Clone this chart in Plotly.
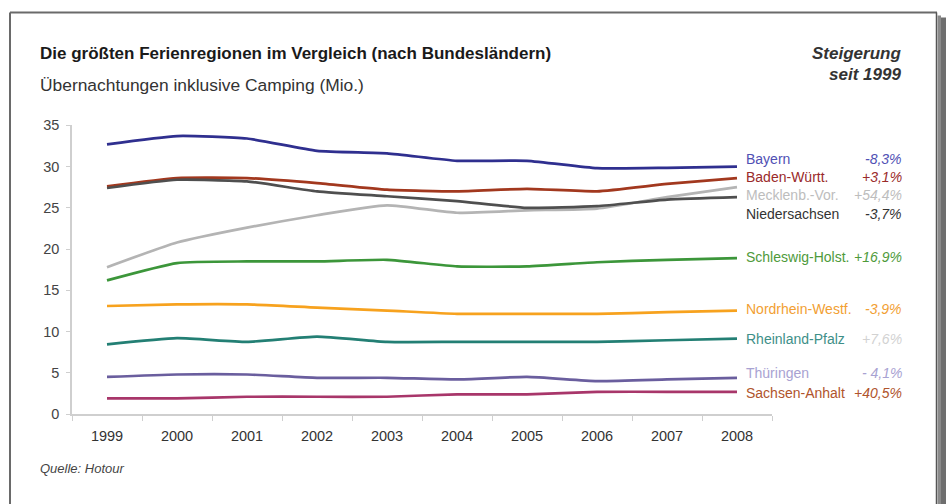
import plotly.graph_objects as go

W, H = 946, 504

years = ["1999", "2000", "2001", "2002", "2003", "2004", "2005", "2006", "2007", "2008"]
regions = ["Bayern", "Baden-Württ.", "Mecklenb.-Vor.", "Niedersachsen", "Schleswig-Holst.",
           "Nordrhein-Westf.", "Rheinland-Pfalz", "Thüringen", "Sachsen-Anhalt"]
changes = ["-8,3%", "+3,1%", "+54,4%", "-3,7%", "+16,9%", "-3,9%", "+7,6%", "- 4,1%", "+40,5%"]

bayern = [32.7, 33.7, 33.4, 31.9, 31.6, 30.7, 30.7, 29.8, 29.85, 30.0]
baden = [27.6, 28.6, 28.6, 28.0, 27.2, 27.0, 27.3, 27.0, 27.9, 28.6]
mecklenb = [17.8, 20.8, 22.6, 24.1, 25.3, 24.4, 24.7, 24.9, 26.3, 27.5]
niedersachsen = [27.4, 28.4, 28.2, 27.0, 26.4, 25.8, 25.0, 25.2, 26.0, 26.3]
schleswig = [16.2, 18.3, 18.5, 18.5, 18.7, 17.9, 17.9, 18.4, 18.7, 18.9]
nrw = [13.1, 13.3, 13.3, 12.9, 12.55, 12.15, 12.15, 12.15, 12.35, 12.55]
rlp = [8.45, 9.2, 8.75, 9.4, 8.75, 8.75, 8.75, 8.75, 8.95, 9.15]
thueringen = [4.5, 4.8, 4.8, 4.4, 4.4, 4.2, 4.5, 4.0, 4.2, 4.4]
sachsen_anhalt = [1.9, 1.9, 2.1, 2.1, 2.1, 2.4, 2.4, 2.7, 2.7, 2.7]

y_ticks = [0, 5, 10, 15, 20, 25, 30, 35]

series = [bayern, baden, mecklenb, niedersachsen, schleswig, nrw, rlp, thueringen, sachsen_anhalt]

# styles
line_colors = ["#2F2F8F", "#A2381E", "#B4B4B4", "#4F4F4F", "#3C963A", "#F7A21E", "#237F74", "#6A5E9E", "#A8366A"]
label_colors = ["#5050B4", "#9A2A2A", "#BDBDBD", "#333333", "#4E9A3A", "#F2A033", "#3E8F88", "#A8A2D2", "#B0542C"]
pct_colors = ["#5050B4", "#9A2A2A", "#BDBDBD", "#333333", "#4E9A3A", "#F2A033", "#D2D2D2", "#A8A2D2", "#B0542C"]
label_y = [30.9, 28.7, 26.5, 24.3, 19.0, 12.7, 9.1, 5.0, 2.5]

FONT = "Liberation Sans, Arial, sans-serif"

fig = go.Figure()
for name, vals, col in zip(regions, series, line_colors):
    fig.add_trace(go.Scatter(x=years, y=vals, mode="lines", name=name,
                             line=dict(color=col, width=2.7, shape="spline", smoothing=0.5),
                             showlegend=False, hoverinfo="x+y+name"))

def px(x):
    return x / W

def py(y):
    yy = (y - 6.6) / 0.969
    return 1 - yy / H

annotations = []
for name, pct, ly, lc, pc in zip(regions, changes, label_y, label_colors, pct_colors):
    annotations.append(dict(x=px(744), y=ly, xref="paper", yref="y", text=name, showarrow=False,
                            xanchor="left", yanchor="middle", font=dict(family=FONT, size=14, color=lc)))
    annotations.append(dict(x=px(904), y=ly, xref="paper", yref="y", text="<i>" + pct + "</i>", showarrow=False,
                            xanchor="right", yanchor="middle", font=dict(family=FONT, size=14, color=pc)))

annotations += [
    dict(x=px(38), y=py(52), xref="paper", yref="paper", showarrow=False, xanchor="left", yanchor="middle",
         text="<b>Die größten Ferienregionen im Vergleich (nach Bundesländern)</b>",
         font=dict(family=FONT, size=17, color="#1A1A1A")),
    dict(x=px(38), y=py(84), xref="paper", yref="paper", showarrow=False, xanchor="left", yanchor="middle",
         text="Übernachtungen inklusive Camping (Mio.)",
         font=dict(family=FONT, size=17.4, color="#333333")),
    dict(x=px(903), y=py(52), xref="paper", yref="paper", showarrow=False, xanchor="right", yanchor="middle",
         text="<b><i>Steigerung</i></b>", font=dict(family=FONT, size=17, color="#333333")),
    dict(x=px(903), y=py(73), xref="paper", yref="paper", showarrow=False, xanchor="right", yanchor="middle",
         text="<b><i>seit 1999</i></b>", font=dict(family=FONT, size=17, color="#333333")),
    dict(x=px(38), y=py(467), xref="paper", yref="paper", showarrow=False, xanchor="left", yanchor="middle",
         text="<i>Quelle: Hotour</i>", font=dict(family=FONT, size=13, color="#444444")),
]

shapes = [
    # frame
    dict(type="line", xref="paper", yref="paper", x0=px(10), x1=px(10), y0=py(11), y1=py(520),
         line=dict(color="#6A6A6A", width=2)),
    dict(type="line", xref="paper", yref="paper", x0=px(10), x1=px(937), y0=py(11), y1=py(11),
         line=dict(color="#6A6A6A", width=2)),
    dict(type="line", xref="paper", yref="paper", x0=px(936.5), x1=px(936.5), y0=py(11), y1=py(520),
         line=dict(color="#555555", width=1.5)),
    # shadow
    dict(type="rect", xref="paper", yref="paper", x0=px(937.5), x1=px(941), y0=py(14), y1=py(520),
         line=dict(width=0), fillcolor="#8A8A8A"),
    dict(type="rect", xref="paper", yref="paper", x0=px(941), x1=px(946), y0=py(16), y1=py(520),
         line=dict(width=0), fillcolor="#6E6E6E"),
]

fig.update_layout(
    width=W, height=H,
    margin=dict(l=0, r=0, t=0, b=0),
    paper_bgcolor="white", plot_bgcolor="white",
    annotations=annotations, shapes=shapes,
    xaxis=dict(domain=[px(72), px(772)], type="category", range=[-0.5, 9.5],
               showgrid=False, zeroline=False, showline=True, linecolor="#CFCFCF", linewidth=1.5,
               ticks="outside", tickson="boundaries", ticklen=5, tickcolor="#CFCFCF",
               tickfont=dict(family=FONT, size=14.5, color="#333333"), ticklabelstandoff=8,
               anchor="y"),
    yaxis=dict(domain=[py(413), py(124)], range=[0, 35], tickvals=y_ticks,
               showgrid=False, zeroline=False, showline=True, linecolor="#CFCFCF", linewidth=1.5,
               ticks="outside", ticklen=4, tickcolor="#CFCFCF",
               tickfont=dict(family=FONT, size=14.5, color="#444444"), ticklabelstandoff=4,
               anchor="x"),
    font=dict(family=FONT),
)

fig.write_html("out.html", config={"displayModeBar": False},
               post_script="document.body.style.margin='0';document.body.style.overflow='hidden';")
